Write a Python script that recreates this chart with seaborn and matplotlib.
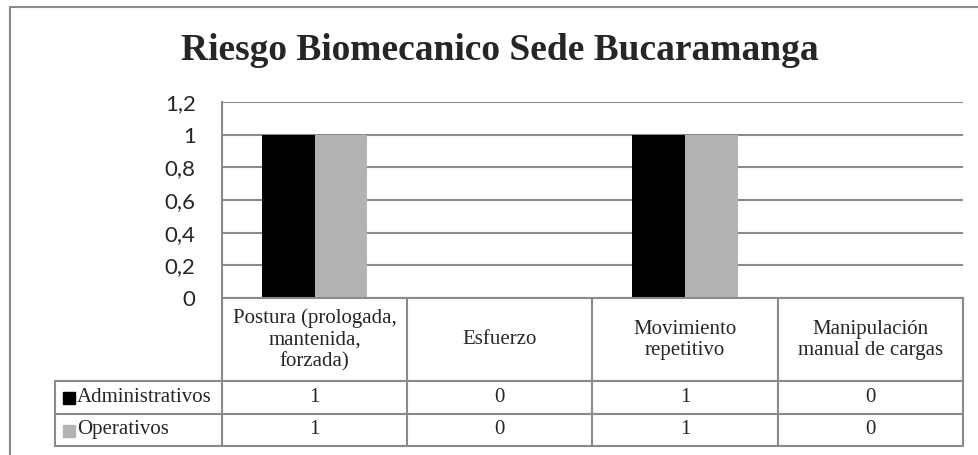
import pandas as pd
import matplotlib.pyplot as plt
import seaborn as sns
from matplotlib.lines import Line2D
from matplotlib.transforms import blended_transform_factory

# data
categories = ['Postura (prologada,\nmantenida,\nforzada)', 'Esfuerzo',
              'Movimiento\nrepetitivo', 'Manipulación\nmanual de cargas']
series = ['Administrativos', 'Operativos']
administrativos = [1, 0, 1, 0]
operativos = [1, 0, 1, 0]
yticks = [0, 0.2, 0.4, 0.6, 0.8, 1, 1.2]
colors = ['#000000', '#b3b3b3']
title = 'Riesgo Biomecanico Sede Bucaramanga'

sns.set_style('white')
plt.rcParams['font.family'] = ['Liberation Serif', 'DejaVu Serif']

df = pd.DataFrame({
    'categoria': categories * 2,
    'grupo': [series[0]] * len(categories) + [series[1]] * len(categories),
    'valor': administrativos + operativos,
})

W, H = 979, 455
line_c = '#8a8a8a'
fig = plt.figure(figsize=(W / 100, H / 100), dpi=100)
ax = fig.add_axes([222 / W, 1 - 298 / H, (963 - 222) / W, (298 - 102) / H])

sns.barplot(data=df, x='categoria', y='valor', hue='grupo', order=categories,
            hue_order=series, palette=colors, width=0.57, saturation=1,
            legend=False, edgecolor='none', linewidth=0, ax=ax)

ax.set_axisbelow(True)
ax.set_ylim(0, 1.2)
ax.set_xlim(-0.5, len(categories) - 0.5)
ax.set_yticks(yticks)
ax.set_yticklabels([f'{v:g}'.replace('.', ',') for v in yticks],
                   family=['Lato', 'DejaVu Sans'], fontsize=16)
ax.yaxis.grid(True, color=line_c, lw=1.5)
ax.tick_params(axis='y', length=0, pad=19)
ax.set_xticks([])
ax.set_xlabel('')
ax.set_ylabel('')
for s in ['top', 'right', 'bottom']:
    ax.spines[s].set_visible(False)
ax.spines['left'].set_color(line_c)
ax.spines['left'].set_linewidth(1.5)

# data table under the plot
ax_h = 298 - 102
cat_w = (963 - 222) / len(categories)


def ypx(p):
    return -p / ax_h


tr = blended_transform_factory(ax.transData, ax.transAxes)
edges = [0, 83, 115.5, 148]
x_right = len(categories) - 0.5
x_left = -0.5 - (222 - 55) / cat_w

ax.add_line(Line2D([-0.5, x_right], [0, 0], transform=tr, color=line_c, lw=1.5, clip_on=False))
for p in edges[1:]:
    ax.add_line(Line2D([x_left, x_right], [ypx(p), ypx(p)], transform=tr,
                       color=line_c, lw=1.5, clip_on=False))
for i in range(len(categories) + 1):
    ax.add_line(Line2D([i - 0.5, i - 0.5], [0, ypx(edges[-1])], transform=tr,
                       color=line_c, lw=1.5, clip_on=False))
ax.add_line(Line2D([x_left, x_left], [ypx(edges[1]), ypx(edges[-1])], transform=tr,
                   color=line_c, lw=1.5, clip_on=False))

for i, cat in enumerate(categories):
    ax.text(i, ypx(42), cat, transform=tr, ha='center', va='center',
            fontsize=15, linespacing=1.2)

rows = [administrativos, operativos]
for r, (name, vals, col) in enumerate(zip(series, rows, colors)):
    yc = ypx((edges[r + 1] + edges[r + 2]) / 2)
    ax.plot([x_left + 14 / cat_w], [yc - 0.005], marker='s', ms=9, color=col, transform=tr,
            clip_on=False, lw=0)
    ax.text(x_left + 22 / cat_w, yc, name, transform=tr, ha='left', va='center', fontsize=15)
    for i, v in enumerate(vals):
        ax.text(i, yc, f'{v:g}', transform=tr, ha='center', va='center', fontsize=15)

fig.text(500 / W, 1 - 60 / H, title, ha='center', va='baseline', fontsize=27, weight='bold')

# chart frame
fig.add_artist(Line2D([10 / W, 10 / W], [0, 1 - 7 / H], transform=fig.transFigure, color=line_c, lw=1.5))
fig.add_artist(Line2D([10 / W, 1], [1 - 7 / H, 1 - 7 / H], transform=fig.transFigure, color=line_c, lw=1.5))

fig.savefig('out.png', dpi=100)
